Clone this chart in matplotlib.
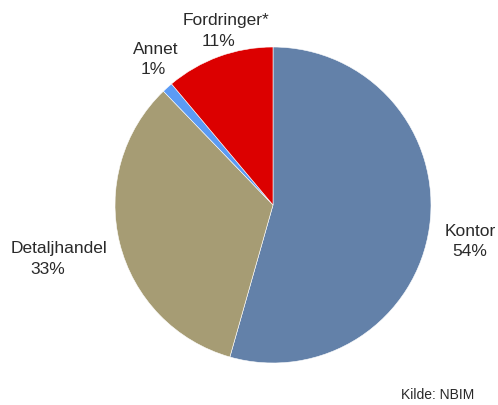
import matplotlib.pyplot as plt

etiketter = ['Kontor', 'Detaljhandel', 'Annet', 'Fordringer*']
andeler = [54.4, 33.4, 1.1, 11.1]
farger = ['#6381A9', '#A69C74', '#5B9BF5', '#DC0000']
# label positions (px centre of name line, px centre of percent line)
navn_pos = [(470, 231), (59, 248), (156, 49), (226, 20)]
pst_pos = [(470, 252), (48, 269), (153, 70), (218, 41)]

plt.rcParams['font.family'] = ['Liberation Sans', 'DejaVu Sans']

fig = plt.figure(figsize=(4.98, 4.05), dpi=100)
ax = fig.add_axes([(273 - 158) / 498, (405 - 205 - 158) / 405, 316 / 498, 316 / 405])

ax.pie(andeler, colors=farger, startangle=90, counterclock=False, radius=1,
       wedgeprops=dict(edgecolor='white', linewidth=0.4))

for navn, verdi, (nx, ny), (px, py) in zip(etiketter, andeler, navn_pos, pst_pos):
    fig.text(nx / 498, 1 - ny / 405, navn, ha='center', va='center',
             fontsize=12.5, color='#2a2a2a')
    fig.text(px / 498, 1 - py / 405, f'{round(verdi)}%', ha='center', va='center',
             fontsize=12.5, color='#2a2a2a')

ax.set_xlim(-1, 1)
ax.set_ylim(-1, 1)
ax.set_aspect('equal')
ax.axis('off')

fig.text(438 / 498, 1 - 395 / 405, 'Kilde: NBIM', ha='center', va='center',
         fontsize=10, color='#2a2a2a')

fig.savefig('out.png', dpi=100)
